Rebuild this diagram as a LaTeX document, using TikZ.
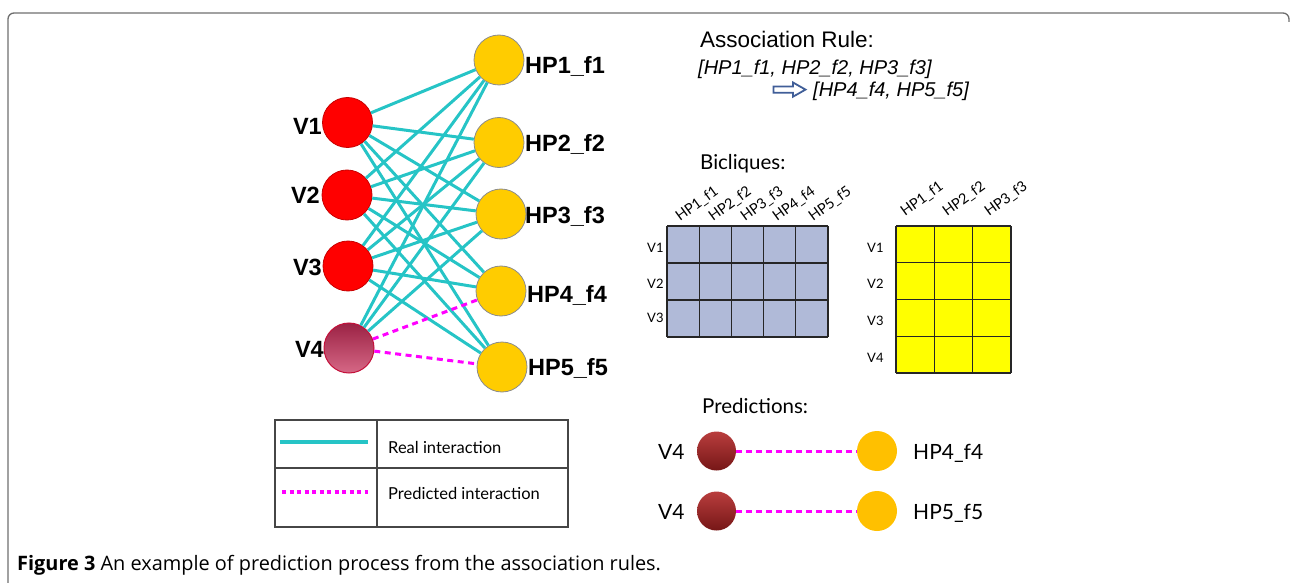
\documentclass[tikz,border=0pt]{standalone}
\usepackage{fontspec}
\setmainfont{Liberation Sans}
\newfontfamily\gill{Lato}
\newfontfamily\capfont{Open Sans}
\definecolor{cyanedge}{RGB}{38,196,198}
\definecolor{predmag}{RGB}{255,0,255}
\definecolor{vred}{RGB}{255,0,0}
\definecolor{vredborder}{RGB}{200,0,0}
\definecolor{vfourtop}{RGB}{155,34,68}
\definecolor{vfourbot}{RGB}{214,104,134}
\definecolor{vfourborder}{RGB}{196,16,58}
\definecolor{hpyellow}{RGB}{255,204,0}
\definecolor{hpborder}{RGB}{140,140,140}
\definecolor{predyellow}{RGB}{255,192,0}
\definecolor{predtop}{RGB}{185,62,62}
\definecolor{predmid}{RGB}{145,30,30}
\definecolor{predbot}{RGB}{118,22,22}
\definecolor{gridblue}{RGB}{176,186,216}
\definecolor{gridyellow}{RGB}{255,255,0}
\definecolor{arrowblue}{RGB}{64,94,152}
\definecolor{framegray}{RGB}{110,110,110}
\definecolor{legendgray}{RGB}{70,70,70}
\begin{document}
\begin{tikzpicture}[x=1pt,y=-1pt,
  vnode/.style={circle,minimum size=50pt,inner sep=0pt,fill=vred,draw=vredborder,line width=0.8pt},
  vfour/.style={circle,minimum size=50pt,inner sep=0pt,top color=vfourtop,middle color=vfourtop,bottom color=vfourbot,draw=vfourborder,line width=1pt},
  hpnode/.style={circle,minimum size=50pt,inner sep=0pt,fill=hpyellow,draw=hpborder,line width=0.8pt},
  glabel/.style={font=\fontsize{23.5}{26}\selectfont\bfseries,inner sep=0pt},
  rulefont/.style={font=\fontsize{22.5}{26}\selectfont,inner sep=0pt,anchor=base west},
  ruleital/.style={font=\fontsize{20}{24}\selectfont\itshape,inner sep=0pt,anchor=base west},
  gtitle/.style={font=\gill\fontsize{20.5}{24}\selectfont,inner sep=0pt,anchor=base west},
  gsmall/.style={font=\gill\fontsize{13}{15}\selectfont,inner sep=0pt,anchor=base west},
  gcol/.style={font=\gill\fontsize{14.5}{17}\selectfont,inner sep=0pt,anchor=base west,rotate=36},
  gleg/.style={font=\gill\fontsize{16.5}{19}\selectfont,inner sep=0pt,anchor=base west},
  gpred/.style={font=\gill\fontsize{21}{24}\selectfont,inner sep=0pt,anchor=base west},
  real/.style={draw=cyanedge,line width=3pt},
  pred/.style={draw=predmag,line width=3pt,dash pattern=on 6pt off 4.5pt},
  pball/.style={circle,minimum size=39pt,inner sep=0pt,top color=predtop,middle color=predmid,bottom color=predbot},
  yball/.style={circle,minimum size=40pt,inner sep=0pt,fill=predyellow},
  gridline/.style={draw=black!85,line width=1.2pt}
]
\useasboundingbox (0,0) rectangle (1291,583);
% frame
\draw[framegray,line width=1.3pt,rounded corners=6pt] (8,584) -- (8,13) -- (1289,13) -- (1289,22);

% left bipartite graph
\node[vnode] (v1) at (347.5,122.5) {};
\node[vnode] (v2) at (347,195) {};
\node[vnode] (v3) at (348,266) {};
\node[vfour] (v4) at (349,348) {};
\node[hpnode] (h1) at (499,60) {};
\node[hpnode] (h2) at (499,142.5) {};
\node[hpnode] (h3) at (501,214) {};
\node[hpnode] (h4) at (501,291) {};
\node[hpnode] (h5) at (502,367) {};
\foreach \v in {v1,v2,v3}{\foreach \h in {h1,h2,h3,h4,h5}{\draw[real] (\v) -- (\h);}}
\foreach \h in {h1,h2,h3}{\draw[real] (v4) -- (\h);}
\draw[pred] (v4) -- (h4);
\draw[pred] (v4) -- (h5);

\node[glabel,anchor=base east] (lv1) at (322,135) {V1};
\node[glabel,anchor=base east] (lv2) at (320,203.5) {V2};
\node[glabel,anchor=base east] (lv3) at (322,275) {V3};
\node[glabel,anchor=base east] (lv4) at (324,357.5) {V4};
\node[glabel,anchor=base west] (lh1) at (525,73.3) {HP1\_f1};
\node[glabel,anchor=base west] (lh2) at (525,152) {HP2\_f2};
\node[glabel,anchor=base west] (lh3) at (525,223) {HP3\_f3};
\node[glabel,anchor=base west] (lh4) at (527,302) {HP4\_f4};
\node[glabel,anchor=base west] (lh5) at (528,375) {HP5\_f5};

% association rule
\node[rulefont] (ar) at (700,48) {Association Rule:};
\node[ruleital] (ar2) at (698,75) {[HP1\_f1, HP2\_f2, HP3\_f3]};
\node[ruleital] (ar3) at (813,97) {[HP4\_f4, HP5\_f5]};
\draw[arrowblue,line width=1.8pt,line join=miter] (773.5,86.5) -- (793,86.5) -- (793,82.5) -- (805.5,89.6) -- (793,96.7) -- (793,92.7) -- (773.5,92.7) -- cycle;

% bicliques
\node[gtitle] (bic) at (700,170) {Bicliques:};
\fill[gridblue] (667,226) rectangle (828,337);
\foreach \i in {0,...,5}{\draw[gridline] ({667+\i*32.2},226) -- ({667+\i*32.2},337);}
\foreach \j in {0,...,3}{\draw[gridline] (667,{226+\j*37}) -- (828,{226+\j*37});}
\node[gsmall] (bv1) at (647,252) {V1};
\node[gsmall] (bv2) at (647,288) {V2};
\node[gsmall] (bv3) at (647,322) {V3};
\node[gcol] (bc1) at (680,222) {HP1\_f1};
\node[gcol] (bc2) at (713,222) {HP2\_f2};
\node[gcol] (bc3) at (745,222) {HP3\_f3};
\node[gcol] (bc4) at (777,222) {HP4\_f4};
\node[gcol] (bc5) at (813,222) {HP5\_f5};

\fill[gridyellow] (896,226) rectangle (1011,373);
\foreach \i in {0,...,3}{\draw[gridline] ({896+\i*38.33},226) -- ({896+\i*38.33},373);}
\foreach \j in {0,...,4}{\draw[gridline] (896,{226+\j*36.75}) -- (1011,{226+\j*36.75});}
\node[gsmall] (yv1) at (867,252) {V1};
\node[gsmall] (yv2) at (867,288) {V2};
\node[gsmall] (yv3) at (867,325) {V3};
\node[gsmall] (yv4) at (867,362) {V4};
\node[gcol] (yc1) at (905,217) {HP1\_f1};
\node[gcol] (yc2) at (947,217) {HP2\_f2};
\node[gcol] (yc3) at (989,217) {HP3\_f3};

% legend
\draw[legendgray,line width=1.2pt] (275,420) rectangle (568,527);
\draw[legendgray,line width=1.2pt] (377,420) -- (377,527);
\draw[legendgray,line width=1.2pt] (275,468) -- (568,468);
\coordinate (ls1) at (280,442);
\coordinate (le1) at (368,442);
\coordinate (ls2) at (282,492);
\coordinate (le2) at (368,492);
\draw[draw=cyanedge,line width=4pt] (ls1) -- (le1);
\draw[draw=predmag,line width=3.5pt,dash pattern=on 4pt off 3.5pt] (ls2) -- (le2);
\node[gleg] (lt1) at (388,453) {Real interaction};
\node[gleg] (lt2) at (388,499) {Predicted interaction};

% predictions
\node[gtitle] (predt) at (702,413) {Predictions:};
\node[pball] (p1) at (716.5,451) {};
\node[pball] (p2) at (716.5,511) {};
\node[yball] (y1) at (877,451) {};
\node[yball] (y2) at (877,511) {};
\draw[draw=predmag,line width=3pt,dash pattern=on 6pt off 4pt] (p1) -- (y1);
\draw[draw=predmag,line width=3pt,dash pattern=on 6pt off 4pt] (p2) -- (y2);
\node[gpred] (pv1) at (658,459.5) {V4};
\node[gpred] (pv2) at (658,519.5) {V4};
\node[gpred] (ph1) at (913,459.5) {HP4\_f4};
\node[gpred] (ph2) at (913,519.5) {HP5\_f5};

% caption
\node[font=\capfont\fontsize{19.9}{22}\selectfont,inner sep=0pt,anchor=base west] (cap) at (17,570) {\textbf{Figure 3} An example of prediction process from the association rules.};
\end{tikzpicture}
\end{document}
